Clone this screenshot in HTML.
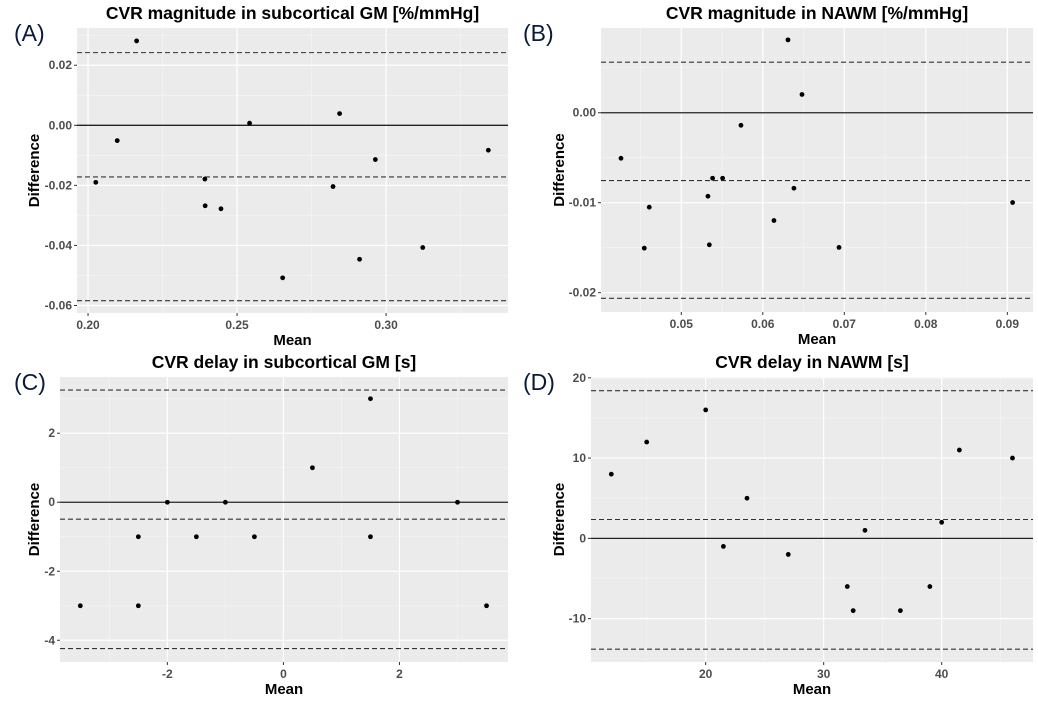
<!DOCTYPE html>
<html><head><meta charset="utf-8"><style>
body{margin:0;background:#fff;width:1038px;height:700px;overflow:hidden;font-family:"Liberation Sans",sans-serif}
svg text{font-family:"Liberation Sans",sans-serif}
</style></head><body>
<svg id="chart" width="1038" height="700" xmlns="http://www.w3.org/2000/svg"></svg>
<script>
// Panel A data
const aMean=[0.2026,0.2098,0.2163,0.2392,0.2393,0.2446,0.2542,0.2653,0.2822,0.2844,0.2911,0.2964,0.3123,0.3343];
const aDiff=[-0.0190,-0.0051,0.0281,-0.0179,-0.0268,-0.0278,0.0007,-0.0508,-0.0204,0.0039,-0.0446,-0.0114,-0.0407,-0.0083];
const aLines=[0.0242,-0.0172,-0.0584];
const aXTicks=[0.20,0.25,0.30];
const aYTicks=[0.02,0.00,-0.02,-0.04,-0.06];
// Panel B data
const bMean=[0.0426,0.04546,0.04607,0.05327,0.05344,0.05384,0.05507,0.05732,0.06137,0.06309,0.06382,0.06481,0.06935,0.09065];
const bDiff=[-0.00506,-0.01505,-0.0105,-0.00928,-0.01468,-0.00728,-0.00728,-0.0014,-0.01198,0.0081,-0.00839,0.00203,-0.01497,-0.00998];
const bLines=[0.00562,-0.00754,-0.02063];
const bXTicks=[0.05,0.06,0.07,0.08,0.09];
const bYTicks=[0.00,-0.01,-0.02];
// Panel C data
const cMean=[-3.5,-2.5,-2.5,-2,-1.5,-1,-0.5,0.5,1.5,1.5,3,3.5];
const cDiff=[-3,-1,-3,0,-1,0,-1,1,3,-1,0,-3];
const cLines=[3.25,-0.49,-4.24];
const cXTicks=[-2,0,2];
const cYTicks=[2,0,-2,-4];
// Panel D data
const dMean=[12,15,20,21.5,23.5,27,32,32.5,33.5,36.5,39,40,41.5,46];
const dDiff=[8,12,16,-1,5,-2,-6,-9,1,-9,-6,2,11,10];
const dLines=[18.4,2.35,-13.8];
const dXTicks=[20,30,40];
const dYTicks=[20,10,0,-10];

const NS="http://www.w3.org/2000/svg";
const svg=document.getElementById('chart');
function mk(parent,tag,attrs,text){const e=document.createElementNS(NS,tag);for(const k in attrs)e.setAttribute(k,attrs[k]);if(text!==undefined)e.textContent=text;parent.appendChild(e);return e;}

function panel(p){
  const g=mk(svg,'g',{});
  
  
  const xs=v=>p.L+(v-p.xd[0])/(p.xd[1]-p.xd[0])*(p.R-p.L);
  const ys=v=>p.B-(v-p.yd[0])/(p.yd[1]-p.yd[0])*(p.B-p.T);
  const bg=mk(g,'rect',{x:p.L,y:p.T,width:p.R-p.L,height:p.B-p.T,fill:'#ebebeb'});
  
  
  const xstep=p.xt[1]-p.xt[0], ystep=p.yt[0]-p.yt[1];
  for(let v=p.xt[0]-xstep*5.5;v<p.xd[1];v+=xstep){ if(v>p.xd[0]) mk(g,'line',{x1:xs(v),x2:xs(v),y1:p.T,y2:p.B,stroke:'#f5f5f5','stroke-width':0.6}); }
  for(let v=p.yt[p.yt.length-1]-ystep*5.5;v<p.yd[1];v+=ystep){ if(v>p.yd[0]) mk(g,'line',{x1:p.L,x2:p.R,y1:ys(v),y2:ys(v),stroke:'#f5f5f5','stroke-width':0.6}); }
  p.xt.forEach(v=>{
    mk(g,'line',{x1:xs(v),x2:xs(v),y1:p.T,y2:p.B,stroke:'#fff','stroke-width':1.2});
    mk(g,'line',{x1:xs(v),x2:xs(v),y1:p.B,y2:p.B+3,stroke:'#333','stroke-width':1});
    const t=mk(g,'text',{x:xs(v),y:p.B+16,'text-anchor':'middle','font-size':12,'font-weight':'bold',fill:'#4d4d4d'},p.fmtx(v));
    
    
  });
  p.yt.forEach(v=>{
    mk(g,'line',{x1:p.L,x2:p.R,y1:ys(v),y2:ys(v),stroke:'#fff','stroke-width':1.2});
    mk(g,'line',{x1:p.L-3,x2:p.L,y1:ys(v),y2:ys(v),stroke:'#333','stroke-width':1});
    const t=mk(g,'text',{x:p.L-5,y:ys(v)+4,'text-anchor':'end','font-size':12,'font-weight':'bold',fill:'#4d4d4d'},p.fmty(v));
    
    
  });
  const z=mk(g,'line',{x1:p.L,x2:p.R,y1:ys(0),y2:ys(0),stroke:'#222','stroke-width':1.3});
  
  
  const names=['upper-limit-line','mean-bias-line','lower-limit-line'];
  p.lines.forEach((v,i)=>{
    const l=mk(g,'line',{x1:p.L,x2:p.R,y1:ys(v),y2:ys(v),stroke:'#333','stroke-width':1.1,'stroke-dasharray':'5,3'});
    
    
  });
  p.mx.forEach((v,i)=>{
    const c=mk(g,'circle',{cx:xs(v),cy:ys(p.dy[i]),r:2.4,fill:'#000'});
    
    
  });
  const tt=mk(g,'text',{x:(p.L+p.R)/2,y:p.T-9,'text-anchor':'middle','font-size':17.5,'font-weight':'bold',fill:'#000'},p.title);
  
  
  const xl=mk(g,'text',{x:(p.L+p.R)/2,y:p.B+32,'text-anchor':'middle','font-size':15,'font-weight':'bold',fill:'#000'},'Mean');
  
  
  const yx=p.yLabX, yy=(p.T+p.B)/2;
  const yl=mk(g,'text',{x:yx,y:yy,'text-anchor':'middle','font-size':15,'font-weight':'bold',fill:'#000',transform:`rotate(-90 ${yx} ${yy})`},'Difference');
  
  
  const lab=mk(g,'text',{x:p.labX,y:p.T+13,'font-size':23,fill:'#0a1a3a'},'('+p.id+')');
  
  
}
const f2=v=>v.toFixed(2), f0=v=>String(v);
panel({id:'A',L:77,R:508,T:28,B:313,xd:[0.1963,0.3409],yd:[-0.0625,0.0324],xt:aXTicks,yt:aYTicks,mx:aMean,dy:aDiff,lines:aLines,fmtx:f2,fmty:f2,title:'CVR magnitude in subcortical GM [%/mmHg]',yLabX:39,labX:14});
panel({id:'B',L:601,R:1033,T:28,B:312,xd:[0.04015,0.09315],yd:[-0.02215,0.00942],xt:bXTicks,yt:bYTicks,mx:bMean,dy:bDiff,lines:bLines,fmtx:f2,fmty:f2,title:'CVR magnitude in NAWM [%/mmHg]',yLabX:564,labX:523});
panel({id:'C',L:60,R:508,T:377,B:662,xd:[-3.85,3.87],yd:[-4.63,3.63],xt:cXTicks,yt:cYTicks,mx:cMean,dy:cDiff,lines:cLines,fmtx:f0,fmty:f0,title:'CVR delay in subcortical GM [s]',yLabX:39,labX:14});
panel({id:'D',L:591,R:1033,T:377,B:662,xd:[10.28,47.74],yd:[-15.4,20.1],xt:dXTicks,yt:dYTicks,mx:dMean,dy:dDiff,lines:dLines,fmtx:f0,fmty:f0,title:'CVR delay in NAWM [s]',yLabX:564,labX:523});
</script>
</body></html>
